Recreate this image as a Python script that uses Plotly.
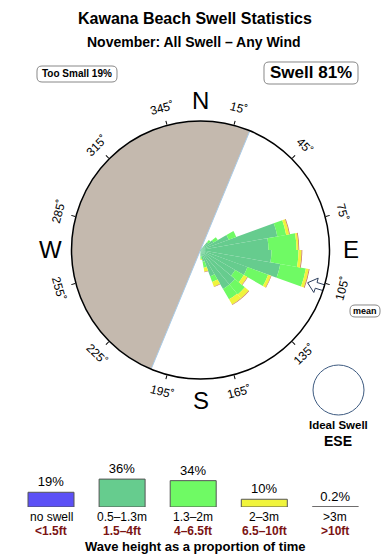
import math
import plotly.graph_objects as go

# ---------------- data ----------------
title_text = "Kawana Beach Swell Statistics"
subtitle_text = "November: All Swell \u2013 Any Wind"

# rose: direction bin centres (deg, 10 deg bins) and per-band radial segments
rose_dirs = [45, 55, 65, 75, 85, 95, 105, 115, 125, 135, 145, 155, 165, 175]
band_05_13 = [10, 15, 30, 78, 68, 71, 81, 50, 40, 45, 45, 28, 12, 6]
band_13_20 = [3, 5, 8, 9, 28, 27, 26, 22, 10, 13, 12, 6, 6, 3]
band_20_30 = [0, 0, 0, 3, 2, 3, 3, 3, 4, 5, 6, 5, 4, 1]
band_30_up = [0, 0, 0, 0.8, 0.8, 0.8, 0.8, 0.6, 0.6, 0.6, 0.6, 0.5, 0.5, 0]
rose_rmax = 129

land_start = 202.5     # shaded (land) half, clockwise from here
land_span = 180
mean_dir = 107
ideal_dir = "ESE"

tick_angles = [15, 45, 75, 105, 135, 165, 195, 225, 255, 285, 315, 345]
cardinals = ["N", "E", "S", "W"]
cardinal_angles = [0, 90, 180, 270]

too_small_pct = 19
swell_pct = 81

legend_names = ["no swell", "0.5\u20131.3m", "1.3\u20132m", "2\u20133m", ">3m"]
legend_feet = ["<1.5ft", "1.5\u20134ft", "4\u20136.5ft", "6.5\u201310ft", ">10ft"]
legend_pct = [19, 36, 34, 10, 0.2]
legend_colors = ["#5c50f6", "#66cc8e", "#6ffa64", "#f0f43c", "#c89a9a"]
band_colors = ["#66cc8e", "#6ffa64", "#f0f43c", "#c87a5a"]
land_color = "#c4b9ae"

# ---------------- layout helpers ----------------
W, H = 390, 560
CX, CY, RPX = 200.5, 250, 129
FONT = "Liberation Sans, Arial, Helvetica, sans-serif"


def px(x):
    return x / W


def py(y):
    return 1 - y / H


def rrect(x0, y0, x1, y1, r):
    P = lambda x, y: f"{px(x):.5f},{py(y):.5f}"
    return (f"M{P(x0 + r, y0)} L{P(x1 - r, y0)} Q{P(x1, y0)} {P(x1, y0 + r)} "
            f"L{P(x1, y1 - r)} Q{P(x1, y1)} {P(x1 - r, y1)} L{P(x0 + r, y1)} "
            f"Q{P(x0, y1)} {P(x0, y1 - r)} L{P(x0, y0 + r)} Q{P(x0, y0)} {P(x0 + r, y0)} Z")


def esc(s):
    return s.replace("<", "&lt;").replace(">", "&gt;")


fig = go.Figure()

# land shading
fig.add_trace(go.Barpolar(
    r=[rose_rmax], theta=[land_start + land_span / 2], width=[land_span],
    marker=dict(color=land_color, line=dict(color="#a9cbe8", width=1)),
    hoverinfo="skip", subplot="polar"))

# rose petals (stacked)
for vals, col in zip([band_05_13, band_13_20, band_20_30, band_30_up], band_colors):
    fig.add_trace(go.Barpolar(
        r=vals, theta=rose_dirs, width=[10] * len(rose_dirs),
        marker=dict(color=col, line=dict(width=0)),
        hoverinfo="skip", subplot="polar"))

# mean direction arrow (built from mean_dir)
def arr_pt(rp, off_px):
    return rp, mean_dir + math.degrees(off_px / rp)

arrow = [arr_pt(112, 0), arr_pt(121, -7.5), arr_pt(121, -3), arr_pt(129, -3),
         arr_pt(129, 3), arr_pt(121, 3), arr_pt(121, 7.5), arr_pt(112, 0)]
fig.add_trace(go.Scatterpolar(
    r=[a[0] for a in arrow], theta=[a[1] for a in arrow], mode="lines",
    fill="toself", fillcolor="white", line=dict(color="#2c3e5c", width=1),
    hoverinfo="skip", subplot="polar"))

# legend bars
fig.add_trace(go.Bar(
    x=list(range(len(legend_pct))), y=legend_pct, width=0.647,
    marker=dict(color=legend_colors, line=dict(color="#555555", width=1)),
    text=[f"{p:g}%" for p in legend_pct], textposition="outside",
    textfont=dict(size=13, color="black", family=FONT), cliponaxis=False,
    hoverinfo="skip", xaxis="x", yaxis="y"))

annotations = []


def ann(text, x, y, size, bold=False, color="black", angle=0, xref="paper", pad=1):
    annotations.append(dict(
        text=f"<b>{text}</b>" if bold else text, x=x, y=y, xref=xref, yref="paper",
        showarrow=False, xanchor="center", yanchor="middle", textangle=angle,
        borderpad=pad, font=dict(size=size, color=color, family=FONT)))


ann(title_text, px(195), py(18), 16, bold=True)
ann(subtitle_text, px(194), py(42), 14, bold=True)
ann(f"Too Small {too_small_pct}%", px(77), py(74), 10, bold=True)
ann(f"Swell {swell_pct}%", px(311), py(73), 17, bold=True)
ann("mean", px(365), py(311), 9, bold=True)
ann("Ideal Swell", px(338), py(425), 11.5, bold=True)
ann(ideal_dir, px(338), py(441), 14, bold=True)
ann("Wave height as a proportion of time", px(195), py(546), 13, bold=True)

for t in tick_angles:
    rad = math.radians(t)
    ann(f"{t}\u02da", px(CX + 147 * math.sin(rad)), py(CY - 147 * math.cos(rad)), 12,
        angle=((t + 90) % 180) - 90)

for lab, t in zip(cardinals, cardinal_angles):
    rad = math.radians(t)
    ann(lab, px(CX + 150 * math.sin(rad)), py(CY - 150 * math.cos(rad)), 24)

# two-line legend captions
for i, (nm, ft) in enumerate(zip(legend_names, legend_feet)):
    ann(esc(nm), i, py(516.5), 12, xref="x", pad=0)
    ann(esc(ft), i, py(530.5), 12, bold=True, color="#7b1414", xref="x", pad=0)

shapes = [
    dict(type="path", path=rrect(37, 66, 117, 82, 5), xref="paper", yref="paper",
         line=dict(color="#888888", width=1)),
    dict(type="path", path=rrect(264, 62, 358, 84, 5), xref="paper", yref="paper",
         line=dict(color="#888888", width=1)),
    dict(type="path", path=rrect(350, 305, 380, 317, 5), xref="paper", yref="paper",
         line=dict(color="#888888", width=1)),
    dict(type="circle", xref="paper", yref="paper", x0=px(313), x1=px(364),
         y0=py(415), y1=py(365), line=dict(color="#3d5a80", width=1)),
]

unit = 71.1
fig.update_layout(
    width=W, height=H, margin=dict(l=0, r=0, t=0, b=0),
    paper_bgcolor="white", plot_bgcolor="white", showlegend=False,
    font=dict(family=FONT),
    polar=dict(
        domain=dict(x=[px(CX - RPX), px(CX + RPX)], y=[py(CY + RPX), py(CY - RPX)]),
        bgcolor="white", barmode="stack", bargap=0, hole=0,
        radialaxis=dict(visible=False, range=[0, rose_rmax]),
        angularaxis=dict(direction="clockwise", rotation=90, showgrid=False,
                         showline=True, linecolor="black", linewidth=1.5,
                         ticks="outside", ticklen=4, tickcolor="black", tickwidth=1,
                         tickvals=tick_angles, showticklabels=False)),
    xaxis=dict(domain=[px(51 - unit / 2), px(51 + unit * 4.5)], range=[-0.5, 4.5],
               visible=False, fixedrange=True),
    yaxis=dict(domain=[py(507), py(467)], range=[0, 40 / 0.775], visible=False,
               fixedrange=True),
    annotations=annotations, shapes=shapes,
)

fig.write_html("out.html", config={"displayModeBar": False})
